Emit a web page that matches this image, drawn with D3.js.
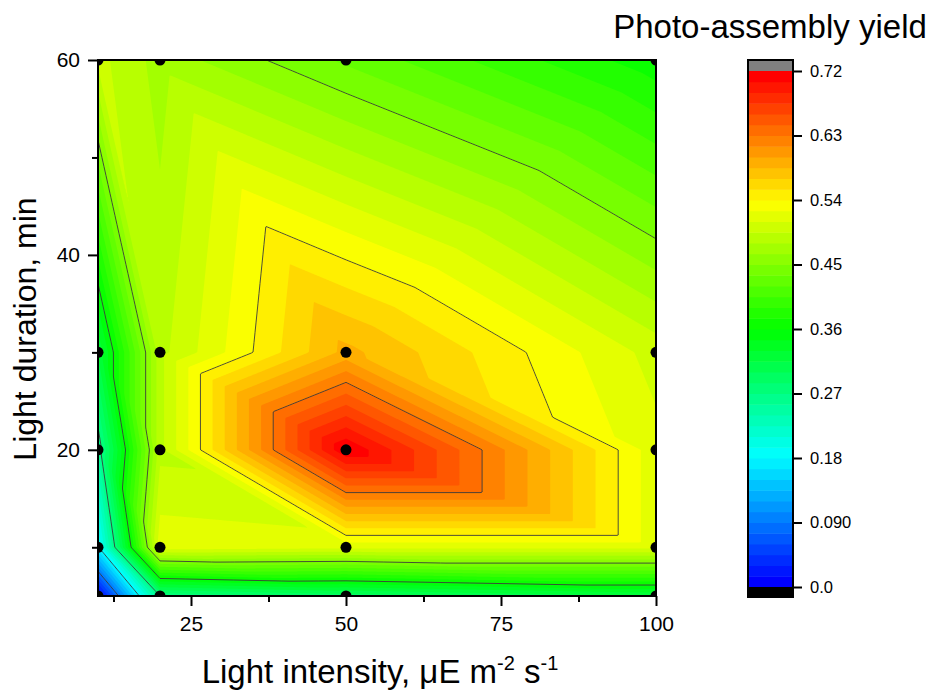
<!DOCTYPE html>
<html>
<head>
<meta charset="utf-8">
<script src="https://cdn.jsdelivr.net/npm/d3@7"></script>
<style>
  body { margin: 0; background: #fff; }
  text { font-family: Arial, "Liberation Sans", sans-serif; fill: #000; }
</style>
</head>
<body>
<div id="chart"></div>
<script>
// measured points: light intensity (x) and light duration (y)
var intensity = [10, 20, 50, 100];
var duration = [5, 10, 20, 30, 60];

// photo-assembly yield, one list per duration, in intensity order
var yieldAt5 = [0.00, 0.27, 0.29, 0.315];
var yieldAt10 = [0.177, 0.52, 0.515, 0.515];
var yieldAt20 = [0.256, 0.49, 0.72, 0.515];
var yieldAt30 = [0.317, 0.49, 0.59, 0.504];
var yieldAt60 = [0.50, 0.474, 0.432, 0.365];

// triangle split of each grid cell ("\\" = upper-left to lower-right, "/" = lower-left to upper-right)
var cellSplit = [
  ["\\", "\\", "\\"],
  ["\\", "\\", "\\"],
  ["\\", "\\", "\\"],
  ["\\", "\\", "/"]
];

var xTicks = [25, 50, 75, 100];
var xMinor = [12.5, 37.5, 62.5, 87.5];
var yTicks = [20, 40, 60];
var yMinor = [10, 30, 50];
var levelStep = 0.015;
var levelCount = 48;
var lineLevels = [0.09, 0.18, 0.27, 0.36, 0.45, 0.54, 0.63];
var barTicks = [0, 0.09, 0.18, 0.27, 0.36, 0.45, 0.54, 0.63, 0.72];
var barLabels = ["0.0", "0.090", "0.18", "0.27", "0.36", "0.45", "0.54", "0.63", "0.72"];

var yieldRows = [yieldAt5, yieldAt10, yieldAt20, yieldAt30, yieldAt60];

var makeContour = function() {
  var width = 930, height = 692;
  var pLeft = 98, pRight = 656, pTop = 60, pBottom = 596;

  var svg = d3.select('#chart')
    .append('svg')
    .attr('width', width)
    .attr('height', height);

  var x = d3.scaleLinear().domain([10, 100]).range([pLeft, pRight]);
  var y = d3.scaleLinear().domain([5, 60]).range([pBottom, pTop]);

  var rainbow = d3.scaleLinear()
    .domain([0, 0.25, 0.5, 0.75, 1])
    .range(['#0000ff', '#00ffff', '#00ff00', '#ffff00', '#ff0000']);
  var bandColor = function(i) { return rainbow(i / (levelCount - 1)); };

  // linear interpolation inside the triangles of the grid
  var yieldAt = function(px, py) {
    var i = Math.min(Math.max(d3.bisectRight(intensity, px) - 1, 0), intensity.length - 2);
    var j = Math.min(Math.max(d3.bisectRight(duration, py) - 1, 0), duration.length - 2);
    var s = (px - intensity[i]) / (intensity[i + 1] - intensity[i]);
    var t = (py - duration[j]) / (duration[j + 1] - duration[j]);
    var v00 = yieldRows[j][i], v10 = yieldRows[j][i + 1];
    var v01 = yieldRows[j + 1][i], v11 = yieldRows[j + 1][i + 1];
    if (cellSplit[j][i] === "\\") {
      if (s + t <= 1) return v00 + s * (v10 - v00) + t * (v01 - v00);
      return v11 + (1 - s) * (v01 - v11) + (1 - t) * (v10 - v11);
    }
    if (s >= t) return v00 + s * (v10 - v00) + t * (v11 - v10);
    return v00 + t * (v01 - v00) + s * (v11 - v01);
  };

  var nx = pRight - pLeft + 1, ny = pBottom - pTop + 1;
  var grid = new Array(nx * ny);
  for (var m = 0; m < ny; m++) {
    for (var k = 0; k < nx; k++) {
      var gx = Math.min(100, Math.max(10, x.invert(pLeft + k)));
      var gy = Math.min(60, Math.max(5, y.invert(pTop + m)));
      grid[m * nx + k] = yieldAt(gx, gy);
    }
  }

  svg.append('clipPath').attr('id', 'plotClip')
    .append('rect')
    .attr('x', pLeft).attr('y', pTop)
    .attr('width', pRight - pLeft).attr('height', pBottom - pTop);

  var plot = svg.append('g').attr('clip-path', 'url(#plotClip)');

  plot.append('rect')
    .attr('x', pLeft).attr('y', pTop)
    .attr('width', pRight - pLeft).attr('height', pBottom - pTop)
    .attr('fill', bandColor(0));

  var levels = d3.range(levelCount).map(function(i) { return i * levelStep; });
  var path = d3.geoPath();

  plot.append('g')
    .attr('transform', 'translate(' + (pLeft - 0.5) + ',' + (pTop - 0.5) + ')')
    .selectAll('path')
    .data(d3.contours().size([nx, ny]).thresholds(levels)(grid))
    .enter()
    .append('path')
    .attr('d', path)
    .attr('fill', function(d, i) { return bandColor(i); });

  plot.append('g')
    .attr('transform', 'translate(' + (pLeft - 0.5) + ',' + (pTop - 0.5) + ')')
    .selectAll('path')
    .data(d3.contours().size([nx, ny]).thresholds(lineLevels)(grid))
    .enter()
    .append('path')
    .attr('d', path)
    .attr('fill', 'none')
    .attr('stroke', '#3c3c3c')
    .attr('stroke-width', 0.9);

  var points = [];
  duration.forEach(function(d) {
    intensity.forEach(function(c) { points.push([c, d]); });
  });

  plot.selectAll('circle')
    .data(points)
    .enter()
    .append('circle')
    .attr('cx', function(d) { return x(d[0]); })
    .attr('cy', function(d) { return y(d[1]); })
    .attr('r', 5.5)
    .attr('fill', '#000');

  // axes
  var styleAxis = function(g) {
    g.select('.domain').remove();
    g.selectAll('line').attr('stroke', '#000').attr('stroke-width', 2);
    g.selectAll('text').attr('font-size', 21).attr('font-family', 'Arial, "Liberation Sans", sans-serif');
  };

  svg.append('g')
    .attr('transform', 'translate(0,' + pBottom + ')')
    .call(d3.axisBottom(x).tickValues(xTicks).tickSize(10).tickPadding(10))
    .call(styleAxis);
  svg.append('g')
    .attr('transform', 'translate(0,' + pBottom + ')')
    .call(d3.axisBottom(x).tickValues(xMinor).tickSize(6).tickFormat(''))
    .call(styleAxis);
  svg.append('g')
    .attr('transform', 'translate(' + pLeft + ',0)')
    .call(d3.axisLeft(y).tickValues(yTicks).tickSize(10).tickPadding(8))
    .call(styleAxis);
  svg.append('g')
    .attr('transform', 'translate(' + pLeft + ',0)')
    .call(d3.axisLeft(y).tickValues(yMinor).tickSize(6).tickFormat(''))
    .call(styleAxis);

  svg.append('rect')
    .attr('x', pLeft).attr('y', pTop)
    .attr('width', pRight - pLeft).attr('height', pBottom - pTop)
    .attr('fill', 'none')
    .attr('stroke', '#000')
    .attr('stroke-width', 2);

  var xTitle = svg.append('text')
    .attr('x', 380).attr('y', 683)
    .attr('text-anchor', 'middle')
    .attr('font-size', 33)
    .text('Light intensity, \u03bcE m');
  xTitle.append('tspan').attr('dy', -13).attr('font-size', 20).text('-2');
  xTitle.append('tspan').attr('dy', 13).text(' s');
  xTitle.append('tspan').attr('dy', -13).attr('font-size', 20).text('-1');

  svg.append('text')
    .attr('transform', 'translate(36,329) rotate(-90)')
    .attr('text-anchor', 'middle')
    .attr('font-size', 32)
    .text('Light duration, min');

  // colour scale bar
  var barLeft = 748, barRight = 793, barTop = 60, barBottom = 597;
  var c = d3.scaleLinear().domain([0, 0.72]).range([587, 71]);

  svg.append('g')
    .selectAll('rect')
    .data(levels)
    .enter()
    .append('rect')
    .attr('x', barLeft)
    .attr('y', function(d) { return c(d + levelStep); })
    .attr('width', barRight - barLeft)
    .attr('height', function(d) { return c(d) - c(d + levelStep) + 0.5; })
    .attr('fill', function(d, i) { return bandColor(i); });

  svg.append('rect')
    .attr('x', barLeft).attr('y', barTop)
    .attr('width', barRight - barLeft).attr('height', c(0.72) - barTop)
    .attr('fill', '#808080');
  svg.append('rect')
    .attr('x', barLeft).attr('y', c(0))
    .attr('width', barRight - barLeft).attr('height', barBottom - c(0))
    .attr('fill', '#000');
  svg.append('rect')
    .attr('x', barLeft).attr('y', barTop)
    .attr('width', barRight - barLeft).attr('height', barBottom - barTop)
    .attr('fill', 'none')
    .attr('stroke', '#000')
    .attr('stroke-width', 2);

  svg.append('g')
    .attr('transform', 'translate(' + barRight + ',0)')
    .call(d3.axisRight(c).tickValues(barTicks).tickSize(9).tickPadding(8)
      .tickFormat(function(d, i) { return barLabels[i]; }))
    .call(function(g) {
      g.select('.domain').remove();
      g.selectAll('line').attr('stroke', '#000').attr('stroke-width', 2);
      g.selectAll('text').attr('font-size', 16.5).attr('font-family', 'Arial, "Liberation Sans", sans-serif');
    });

  svg.append('text')
    .attr('x', 770).attr('y', 38)
    .attr('text-anchor', 'middle')
    .attr('font-size', 33)
    .text('Photo-assembly yield');
};

makeContour();
</script>
</body>
</html>
